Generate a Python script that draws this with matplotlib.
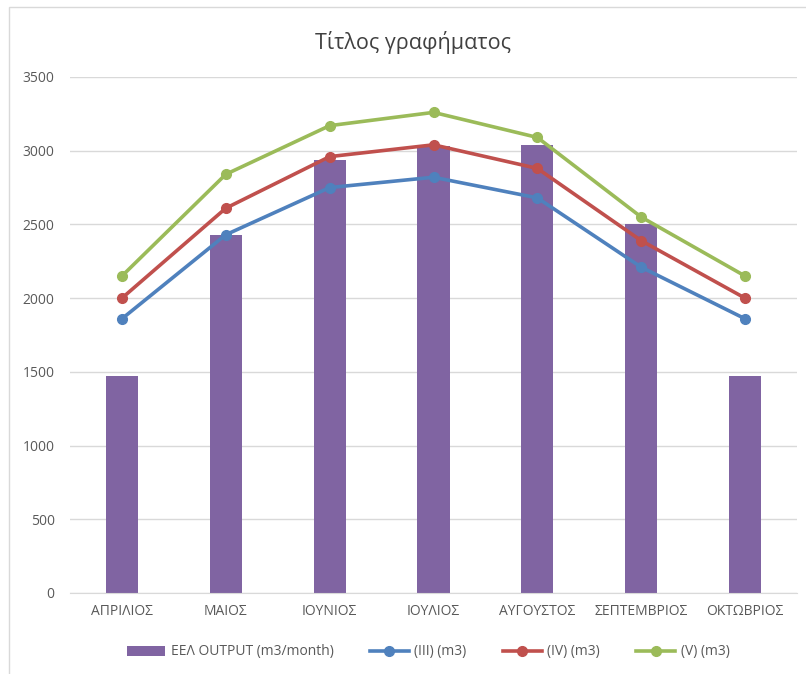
import matplotlib.pyplot as plt
import matplotlib.patches as mpatches
import numpy as np

plt.rcParams['font.family'] = ['Open Sans', 'DejaVu Sans']

months = ["ΑΠΡΙΛΙΟΣ", "ΜΑΙΟΣ", "ΙΟΥΝΙΟΣ", "ΙΟΥΛΙΟΣ", "ΑΥΓΟΥΣΤΟΣ", "ΣΕΠΤΕΜΒΡΙΟΣ", "ΟΚΤΩΒΡΙΟΣ"]
eel_output = [1475, 2430, 2940, 3030, 3040, 2500, 1475]
series_iii = [1860, 2430, 2750, 2820, 2680, 2210, 1860]
series_iv = [2000, 2610, 2960, 3040, 2880, 2390, 2000]
series_v = [2150, 2840, 3170, 3260, 3090, 2550, 2150]
yticks = [0, 500, 1000, 1500, 2000, 2500, 3000, 3500]

W, H = 806, 674
fig = plt.figure(figsize=(W / 100, H / 100), dpi=100)

# chart frame
fig.patches.append(mpatches.Rectangle((9 / W, -0.01), 1.0, 1 - 7 / H + 0.01,
                                      transform=fig.transFigure, fill=False,
                                      edgecolor="#d9d9d9", linewidth=1))

ax = fig.add_axes([70 / W, 1 - 593 / H, 727 / W, (593 - 77) / H])
x = np.arange(len(months))

bars = ax.bar(x, eel_output, width=0.31, color="#8064A2", zorder=2, label="ΕΕΛ OUTPUT (m3/month)")
l1, = ax.plot(x, series_iii, color="#4F81BD", lw=2.6, marker="o", ms=7, zorder=3, label="(III) (m3)")
l2, = ax.plot(x, series_iv, color="#C0504D", lw=2.6, marker="o", ms=7, zorder=3, label="(IV) (m3)")
l3, = ax.plot(x, series_v, color="#9BBB59", lw=2.6, marker="o", ms=7, zorder=3, label="(V) (m3)")

ax.set_xlim(-0.5, 6.5)
ax.set_ylim(0, 3500)
ax.set_yticks(yticks)
ax.set_xticks(x)
ax.set_xticklabels(months)
ax.grid(axis="y", color="#d9d9d9", lw=1, zorder=0)
for s in ["top", "right", "left"]:
    ax.spines[s].set_visible(False)
ax.spines["bottom"].set_color("#d9d9d9")
ax.tick_params(axis="both", length=0, colors="#595959", labelsize=10)
ax.tick_params(axis="y", pad=11)
ax.tick_params(axis="x", pad=8)

fig.text(413 / W, 1 - 42 / H, "Τίτλος γραφήματος", ha="center", va="center",
         fontsize=15.5, color="#404040")

fig.legend(handles=[bars, l1, l2, l3], loc="center",
           bbox_to_anchor=(428 / W, 1 - 652 / H), ncol=4,
           frameon=False, fontsize=10, labelcolor="#595959",
           handlelength=2.8, columnspacing=2.6, handletextpad=0.4)

fig.savefig("out.png", dpi=100)
